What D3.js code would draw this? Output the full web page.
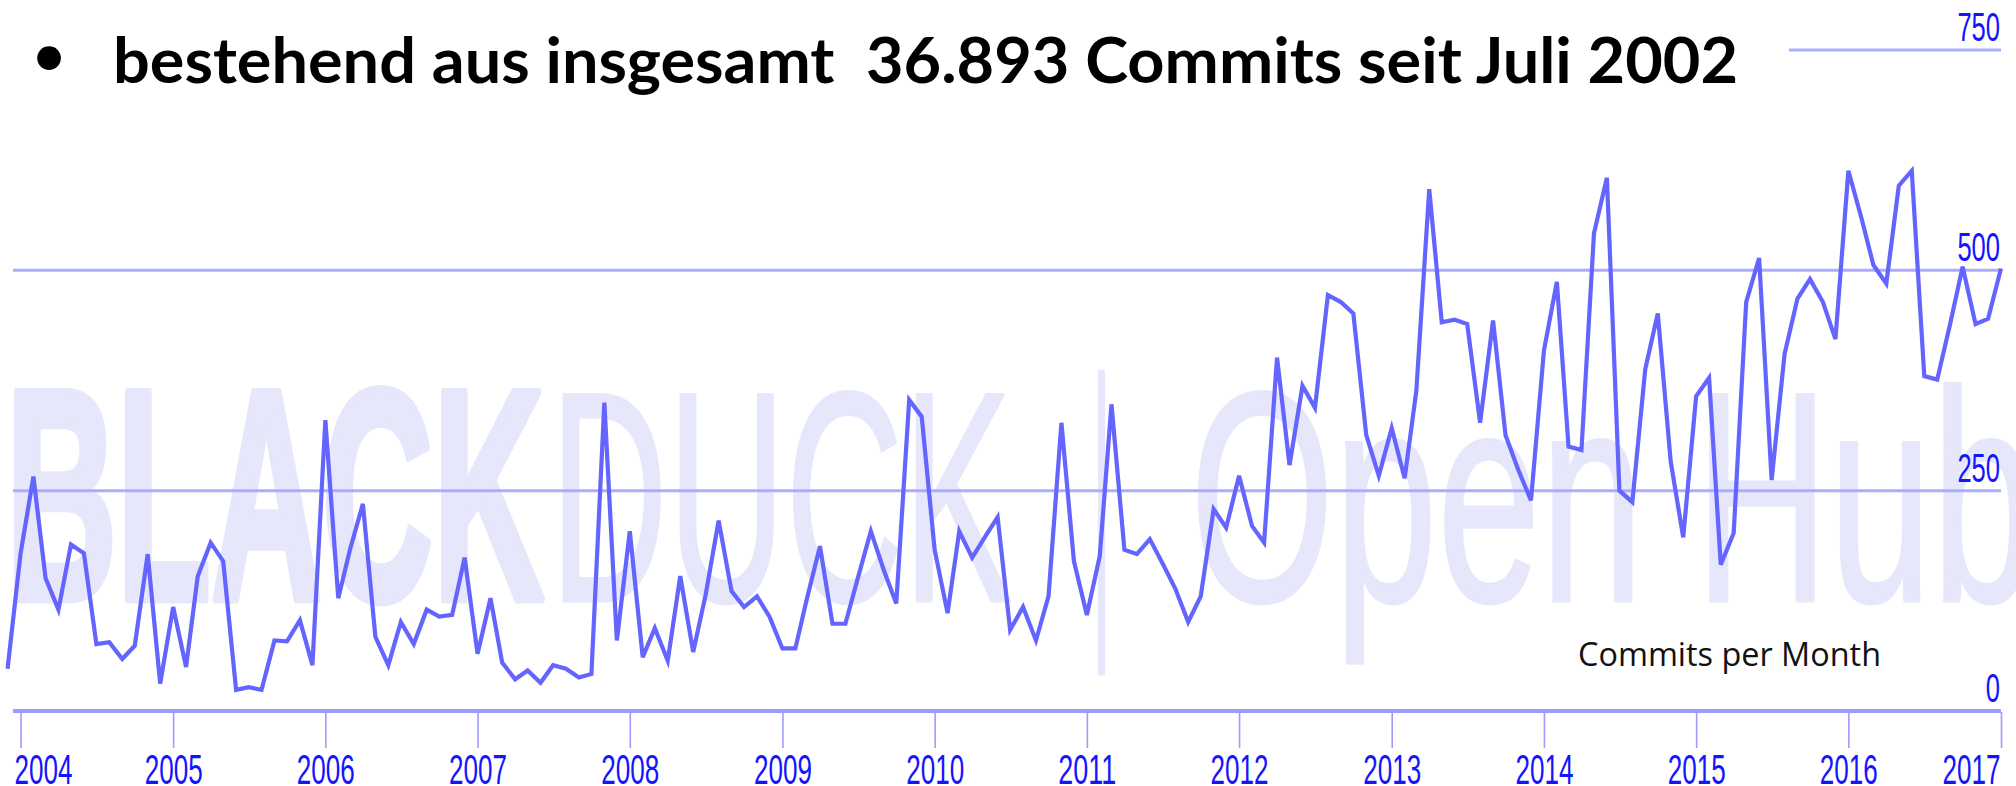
<!DOCTYPE html>
<html>
<head>
<meta charset="utf-8">
<script src="https://cdn.jsdelivr.net/npm/d3@7"></script>
<style>
  html, body { margin: 0; padding: 0; background: #fff; overflow: hidden; }
  svg { display: block; }
</style>
</head>
<body>
<div id="chart"></div>
<script>
// Monthly commit counts, Dec 2003 .. Jan 2017
const firstMonth = "2003-12";
const lastMonth = "2017-01";
const commits = [
    48,
    178, 266, 151, 115, 189, 179, 76, 78, 59, 74, 178, 31,      // 2004
    118, 50, 153, 191, 170, 24, 27, 24, 80, 79, 103, 52,        // 2005
    330, 128, 183, 235, 84, 52, 101, 76, 115, 107, 109, 174,    // 2006
    65, 128, 55, 36, 46, 32, 52, 48, 38, 42, 350, 80,           // 2007
    204, 61, 94, 57, 153, 67, 132, 216, 136, 118, 130, 107,     // 2008
    71, 71, 128, 187, 99, 99, 151, 204, 160, 122, 353, 334,     // 2009
    183, 111, 204, 174, 197, 220, 92, 118, 80, 130, 327, 170,   // 2010
    109, 176, 348, 183, 178, 195, 168, 139, 101, 130, 229, 208, // 2011
    267, 210, 191, 401, 279, 369, 344, 472, 464, 451, 313, 267, // 2012
    321, 264, 363, 592, 441, 444, 439, 327, 443, 313, 273, 239, // 2013
    409, 487, 300, 296, 542, 605, 250, 237, 388, 451, 283, 197, // 2014
    357, 378, 166, 202, 464, 514, 262, 405, 468, 490, 464, 422, // 2015
    613, 560, 506, 485, 596, 613, 380, 376, 439, 504, 439, 445, // 2016
    502                                                         // 2017
];
const yearTicks = [2004, 2005, 2006, 2007, 2008, 2009, 2010, 2011, 2012, 2013, 2014, 2015, 2016, 2017];
const valueTicks = [0, 250, 500, 750];
const titleText = "bestehend aus insgesamt  36.893 Commits seit Juli 2002";
const seriesLabel = "Commits per Month";

const width = 2016;
const height = 786;

const parseMonth = d3.utcParse("%Y-%m");
const months = d3.utcMonth.range(parseMonth(firstMonth), d3.utcMonth.offset(parseMonth(lastMonth), 1));
const series = months.map((m, i) => ({ month: m, value: commits[i] }));

const svg = d3.select("#chart").append("svg")
    .attr("width", width)
    .attr("height", height);

const xScale = d3.scaleUtc()
    .domain([Date.UTC(2004, 0, 1), Date.UTC(2017, 0, 1)])
    .range([20.5, 2001]);

const yScale = d3.scaleLinear()
    .domain([0, 750])
    .range([711, 50]);

const plotLeft = 13;
const plotRight = 2001;

// Watermark behind everything
const wmColor = "#e7e7fb";
const wm = svg.append("g")
    .attr("fill", wmColor)
    .attr("stroke", wmColor)
    .attr("stroke-linejoin", "round")
    .style("font-family", "'Liberation Sans', Arial, sans-serif")
    .style("font-size", "300px");

wm.append("text")
    .attr("x", 6).attr("y", 599)
    .attr("font-weight", "bold")
    .attr("stroke-width", 9)
    .attr("textLength", 538).attr("lengthAdjust", "spacingAndGlyphs")
    .text("BLACK");

wm.append("text")
    .attr("x", 550).attr("y", 601)
    .attr("stroke-width", 3)
    .attr("textLength", 462).attr("lengthAdjust", "spacingAndGlyphs")
    .text("DUCK");

wm.append("text")
    .attr("x", 1093).attr("y", 604)
    .attr("stroke-width", 8)
    .attr("textLength", 17).attr("lengthAdjust", "spacingAndGlyphs")
    .style("font-size", "318px")
    .text("|");

wm.append("text")
    .attr("x", 1190).attr("y", 601)
    .attr("stroke-width", 3)
    .attr("textLength", 845).attr("lengthAdjust", "spacingAndGlyphs")
    .text("Open Hub");

// Gridlines (value 0 doubles as the axis line)
svg.append("g")
    .selectAll("line")
    .data(valueTicks)
    .enter()
    .append("line")
    .attr("x1", plotLeft)
    .attr("x2", plotRight)
    .attr("y1", d => yScale(d))
    .attr("y2", d => yScale(d))
    .attr("stroke", d => d === 0 ? "#9c9cff" : "#acacff")
    .attr("stroke-width", d => d === 0 ? 3.8 : 3);

// Value labels at the right end
svg.append("g")
    .selectAll("text")
    .data(valueTicks)
    .enter()
    .append("text")
    .attr("x", 2000)
    .attr("y", d => yScale(d) - 9)
    .attr("text-anchor", "end")
    .attr("textLength", d => String(d).length * 14.2)
    .attr("lengthAdjust", "spacingAndGlyphs")
    .attr("fill", "#1414ff")
    .style("font-family", "'Liberation Sans', Arial, sans-serif")
    .style("font-size", "40px")
    .text(d => d);

// Year axis
const labelWidth = 58;
const xAxis = svg.append("g")
    .attr("transform", `translate(0, 712)`)
    .call(d3.axisBottom(xScale)
        .tickValues(yearTicks.map(y => new Date(Date.UTC(y, 0, 1))))
        .tickSize(36)
        .tickSizeOuter(0)
        .tickFormat(d3.utcFormat("%Y")));

xAxis.select(".domain").remove();
xAxis.selectAll(".tick line")
    .attr("stroke", "#9c9cff")
    .attr("stroke-width", 1.6);
xAxis.selectAll(".tick text")
    .attr("y", 41)
    .attr("dy", "0.72em")
    .attr("fill", "#1414ff")
    .attr("textLength", labelWidth)
    .attr("lengthAdjust", "spacingAndGlyphs")
    .attr("x", d => {
        const tx = xScale(d);
        const half = labelWidth / 2;
        if (tx - half < 14) return 14 - tx + half;
        if (tx + half > 2000) return 2000 - tx - half;
        return 0;
    })
    .style("font-family", "'Liberation Sans', Arial, sans-serif")
    .style("font-size", "43px");

// Commit line
const line = d3.line()
    .x(d => xScale(d.month))
    .y(d => yScale(d.value));

svg.append("path")
    .datum(series)
    .attr("d", line)
    .attr("fill", "none")
    .attr("stroke", "#6464ff")
    .attr("stroke-width", 4.2)
    .attr("stroke-linejoin", "miter");

svg.append("text")
    .attr("x", 1578)
    .attr("y", 666)
    .attr("fill", "#111")
    .attr("textLength", 303)
    .attr("lengthAdjust", "spacingAndGlyphs")
    .style("font-family", "'Open Sans', 'Noto Sans', sans-serif")
    .style("font-size", "33px")
    .text(seriesLabel);

// Slide title sits on a white box over the top of the chart
const title = svg.append("g");

title.append("rect")
    .attr("x", 0).attr("y", 0)
    .attr("width", 1789).attr("height", 100)
    .attr("fill", "#fff");

title.append("text")
    .attr("x", 49)
    .attr("y", 77)
    .attr("text-anchor", "middle")
    .attr("fill", "#000")
    .style("font-family", "Lato, 'Open Sans', sans-serif")
    .style("font-size", "64px")
    .text("\u2022");

title.append("text")
    .attr("x", 113)
    .attr("y", 83)
    .attr("fill", "#000")
    .attr("font-weight", "bold")
    .attr("textLength", 1625)
    .attr("lengthAdjust", "spacingAndGlyphs")
    .style("white-space", "pre")
    .style("font-family", "Lato, 'Open Sans', sans-serif")
    .style("font-size", "63px")
    .text(titleText);
</script>
</body>
</html>
